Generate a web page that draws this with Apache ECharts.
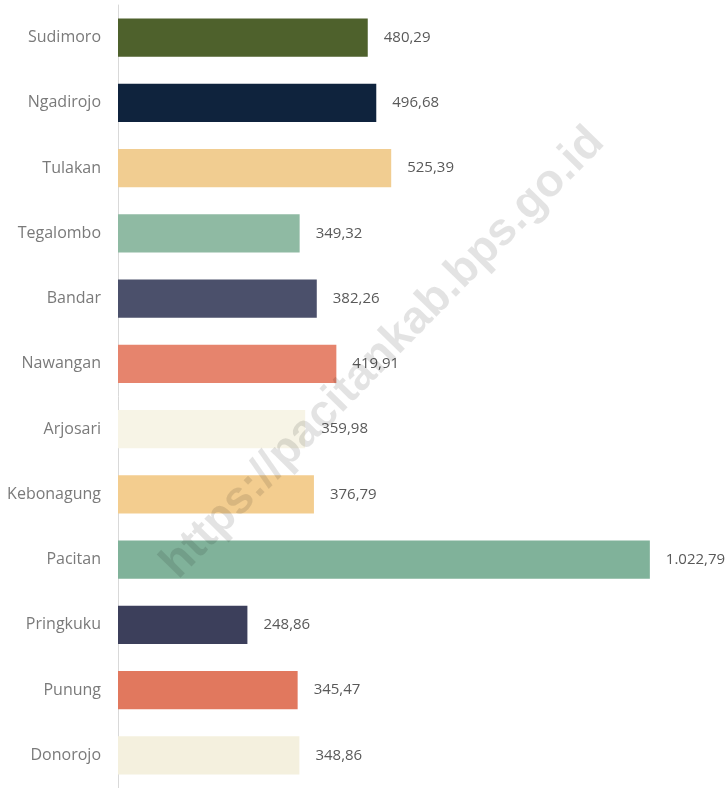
<!DOCTYPE html>
<html>
<head>
<meta charset="utf-8">
<script src="https://cdn.jsdelivr.net/npm/echarts@6/dist/echarts.min.js"></script>
<style>
  html, body { margin: 0; padding: 0; background: #fff; }
  #chart { width: 727px; height: 788px; }
</style>
</head>
<body>
<div id="chart"></div>
<script>
const categories = ['Sudimoro', 'Ngadirojo', 'Tulakan', 'Tegalombo', 'Bandar', 'Nawangan',
  'Arjosari', 'Kebonagung', 'Pacitan', 'Pringkuku', 'Punung', 'Donorojo']
const values = [480.29, 496.68, 525.39, 349.32, 382.26, 419.91, 359.98, 376.79, 1022.79, 248.86, 345.47, 348.86]
const barColors = ['#4e612c', '#0f233d', '#f1cd91', '#8fbaa3', '#4b506b', '#e6846d',
  '#f7f4e6', '#f3cd8f', '#80b29a', '#3c3f5b', '#e1785e', '#f4f0de']

// format angka gaya Indonesia: 1.022,79
function fmt(v) {
  const parts = v.toFixed(2).split('.')
  const int = parts[0].replace(/\B(?=(\d{3})+(?!\d))/g, '.')
  return int + ',' + parts[1]
}

const chart = echarts.init(document.getElementById('chart'))

chart.setOption({
  animation: false,
  grid: { left: 118, right: 37, top: 5, bottom: -7, containLabel: false },
  xAxis: {
    type: 'value',
    min: 0,
    max: 1100,
    show: false
  },
  yAxis: {
    type: 'category',
    data: categories,
    inverse: true,
    axisLine: { lineStyle: { color: '#d9d9d9', width: 1 } },
    axisTick: { show: false },
    axisLabel: {
      color: '#7a7a7a',
      fontSize: 16,
      fontFamily: 'Open Sans',
      margin: 17
    }
  },
  graphic: [{
    type: 'text',
    z: 100,
    x: 383,
    y: 353,
    rotation: Math.PI / 4 + 0.01,
    style: {
      text: 'https://pacitankab.bps.go.id',
      font: 'bold 46px "Liberation Sans"',
      fill: 'rgba(0,0,0,0.11)',
      align: 'center',
      verticalAlign: 'middle'
    }
  }],
  series: [{
    type: 'bar',
    z: 2,
    barWidth: '59%',
    data: values.map((v, i) => ({ value: v, itemStyle: { color: barColors[i] } })),
    label: {
      show: true,
      position: 'right',
      distance: 16,
      color: '#595959',
      fontSize: 15,
      fontFamily: 'Open Sans',
      formatter: p => fmt(p.value)
    }
  }]
})
</script>
</body>
</html>
